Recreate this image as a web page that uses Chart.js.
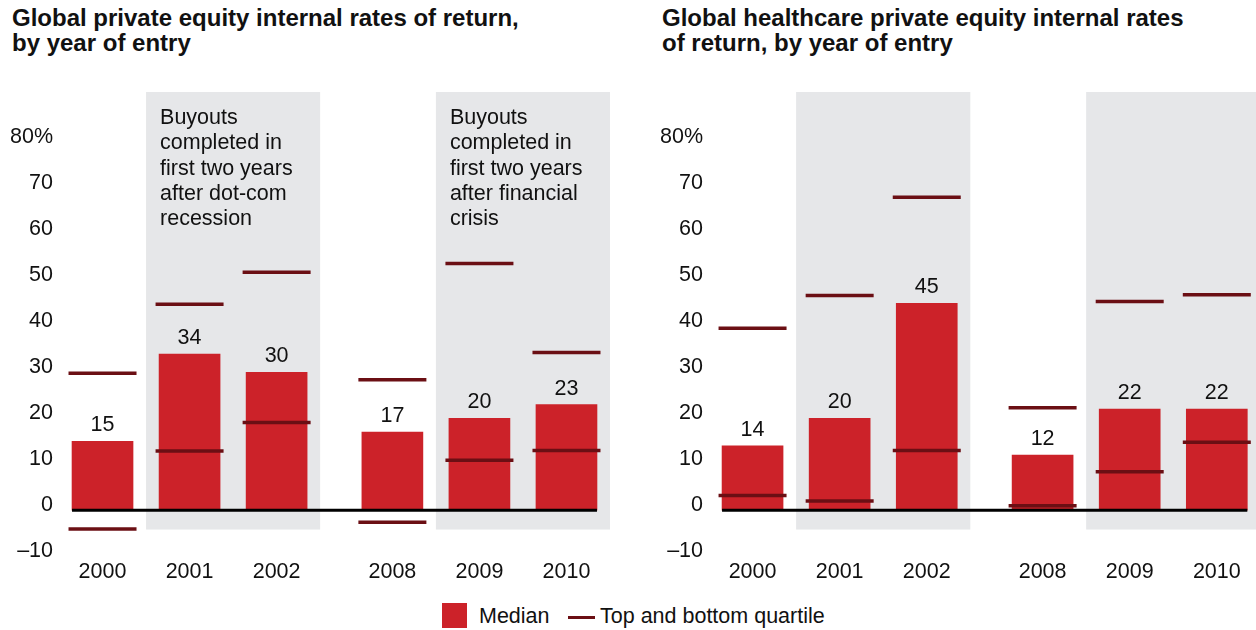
<!DOCTYPE html>
<html>
<head>
<meta charset="utf-8">
<script src="https://cdn.jsdelivr.net/npm/chart.js@4.4.1/dist/chart.umd.min.js"></script>
<style>
  html, body { margin: 0; padding: 0; background: #fff; overflow: hidden; }
  body { width: 1256px; height: 630px; position: relative; font-family: "Liberation Sans", Arial, sans-serif; color: #111; }
  .title { position: absolute; top: 5px; font-weight: bold; font-size: 24px; line-height: 25px; }
  canvas { position: absolute; top: 0; }
  .legend-text { position: absolute; top: 604px; font-size: 21.5px; line-height: 24px; }
</style>
</head>
<body>
<div class="title" style="left:12px">Global private equity internal rates of return,<br>by year of entry</div>
<div class="title" style="left:662px">Global healthcare private equity internal rates<br>of return, by year of entry</div>

<canvas id="chart-all" width="628" height="601" style="left:0"></canvas>
<canvas id="chart-health" width="606" height="601" style="left:650px"></canvas>

<div style="position:absolute;left:442px;top:603px;width:25px;height:25px;background:#cc2229"></div>
<div class="legend-text" style="left:479px">Median</div>
<div style="position:absolute;left:568px;top:616px;width:27px;height:3px;background:#6b0f14"></div>
<div class="legend-text" style="left:600px">Top and bottom quartile</div>

<script>
// data
const years = ["2000", "2001", "2002", "2008", "2009", "2010"];
const yTicks = [-10, 0, 10, 20, 30, 40, 50, 60, 70, 80];

const allMedian = [15, 34, 30, 17, 20, 23];
const allTop = [29.8, 44.8, 51.8, 28.4, 53.7, 34.3];
const allBottom = [-4.1, 12.9, 19.1, -2.6, 10.9, 13.0];

const healthMedian = [14, 20, 45, 12, 22, 22];
const healthTop = [39.6, 46.7, 68.1, 22.3, 45.4, 46.9];
const healthBottom = [3.2, 2.0, 13.0, 1.0, 8.4, 14.8];

const notes = [
    ["Buyouts", "completed in", "first two years", "after dot-com", "recession"],
    ["Buyouts", "completed in", "first two years", "after financial", "crisis"]
];

// layout
const RED = "#cc2229";
const MAROON = "#6b0f14";
const BAND = "#e6e7e9";
const FONT = "'Liberation Sans', Arial, sans-serif";
const GAP = 0.33; // extra space between 2002 and 2008
const slot = i => i + (i >= 3 ? GAP : 0);
const bandGroups = [[1, 2], [4, 5]];

function points(values) {
    return values.map((v, i) => ({ x: slot(i), y: v }));
}

const decorPlugin = {
    id: "decor",
    beforeDatasetsDraw(chart) {
        const { ctx, chartArea, scales: { x, y } } = chart;
        ctx.save();
        ctx.fillStyle = BAND;
        bandGroups.forEach(([a, b]) => {
            const x0 = x.getPixelForValue(slot(a) - 0.5);
            const x1 = x.getPixelForValue(slot(b) + 0.5);
            const yb = y.getPixelForValue(-4.2);
            ctx.fillRect(x0, chartArea.top, x1 - x0, yb - chartArea.top);
        });
        ctx.restore();
    },
    afterDatasetsDraw(chart, args, opts) {
        const { ctx, chartArea, scales: { x, y } } = chart;
        const bars = chart.getDatasetMeta(0).data;
        ctx.save();
        // zero line
        const y0 = y.getPixelForValue(0);
        ctx.strokeStyle = "#000";
        ctx.lineWidth = 3;
        ctx.beginPath();
        ctx.moveTo(bars[0].x - bars[0].width / 2, y0);
        ctx.lineTo(bars[bars.length - 1].x + bars[bars.length - 1].width / 2, y0);
        ctx.stroke();

        // value labels
        ctx.fillStyle = "#111";
        ctx.font = "21.5px " + FONT;
        ctx.textAlign = "center";
        ctx.textBaseline = "alphabetic";
        const vals = chart.data.datasets[0].data;
        bars.forEach((b, i) => {
            ctx.fillText(String(vals[i].y), b.x, b.y - 10);
        });

        // notes inside shaded bands
        if (opts.notes) {
            ctx.textAlign = "left";
            ctx.textBaseline = "middle";
            bandGroups.forEach(([a], k) => {
                const x0 = x.getPixelForValue(slot(a) - 0.5) + 14;
                opts.notes[k].forEach((line, j) => {
                    ctx.fillText(line, x0, chartArea.top + 26 + j * 25.3);
                });
            });
        }
        ctx.restore();
    }
};

function makeChart(id, median, top, bottom, xMax, padRight, withNotes) {
    const ctx = document.getElementById(id).getContext("2d");
    return new Chart(ctx, {
        type: "bar",
        data: {
            datasets: [
                {
                    label: "Median",
                    data: points(median),
                    backgroundColor: RED,
                    borderWidth: 0,
                    barThickness: 61,
                    order: 2
                },
                {
                    type: "line",
                    label: "Top quartile",
                    data: points(top),
                    showLine: false,
                    pointStyle: "line",
                    pointRadius: 34,
                    pointBorderWidth: 3.5,
                    pointBorderColor: MAROON,
                    borderColor: MAROON,
                    clip: false,
                    order: 1
                },
                {
                    type: "line",
                    label: "Bottom quartile",
                    data: points(bottom),
                    showLine: false,
                    pointStyle: "line",
                    pointRadius: 34,
                    pointBorderWidth: 3.5,
                    pointBorderColor: MAROON,
                    borderColor: MAROON,
                    clip: false,
                    order: 1
                }
            ]
        },
        options: {
            responsive: false,
            devicePixelRatio: 1,
            animation: false,
            events: [],
            layout: { autoPadding: false, padding: { top: 92, bottom: 13, left: 0, right: padRight } },
            plugins: {
                legend: { display: false },
                tooltip: { enabled: false },
                decor: { notes: withNotes ? notes : null }
            },
            scales: {
                x: {
                    type: "linear",
                    offset: false,
                    min: -0.5,
                    max: xMax,
                    grid: { display: false, drawTicks: false, tickLength: 0 },
                    border: { display: false },
                    afterBuildTicks: s => { s.ticks = years.map((_, i) => ({ value: slot(i) })); },
                    ticks: {
                        padding: 3,
                        color: "#111",
                        font: { family: FONT, size: 21.5 },
                        callback: (v, i) => years[i]
                    }
                },
                y: {
                    min: -10,
                    max: 91,
                    grid: { display: false, drawTicks: false, tickLength: 0 },
                    border: { display: false },
                    afterBuildTicks: s => { s.ticks = yTicks.map(v => ({ value: v })); },
                    afterFit: s => { s.width = 59; },
                    ticks: {
                        padding: 6,
                        labelOffset: -5,
                        color: "#111",
                        font: { family: FONT, size: 21.5 },
                        callback: v => v === 80 ? "80%" : (v < 0 ? "\u2013" + Math.abs(v) : String(v))
                    }
                }
            }
        },
        plugins: [decorPlugin]
    });
}

makeChart("chart-all", allMedian, allTop, allBottom, 5.83, 18, true);
makeChart("chart-health", healthMedian, healthTop, healthBottom, 5.78, 0, false);
</script>
</body>
</html>
